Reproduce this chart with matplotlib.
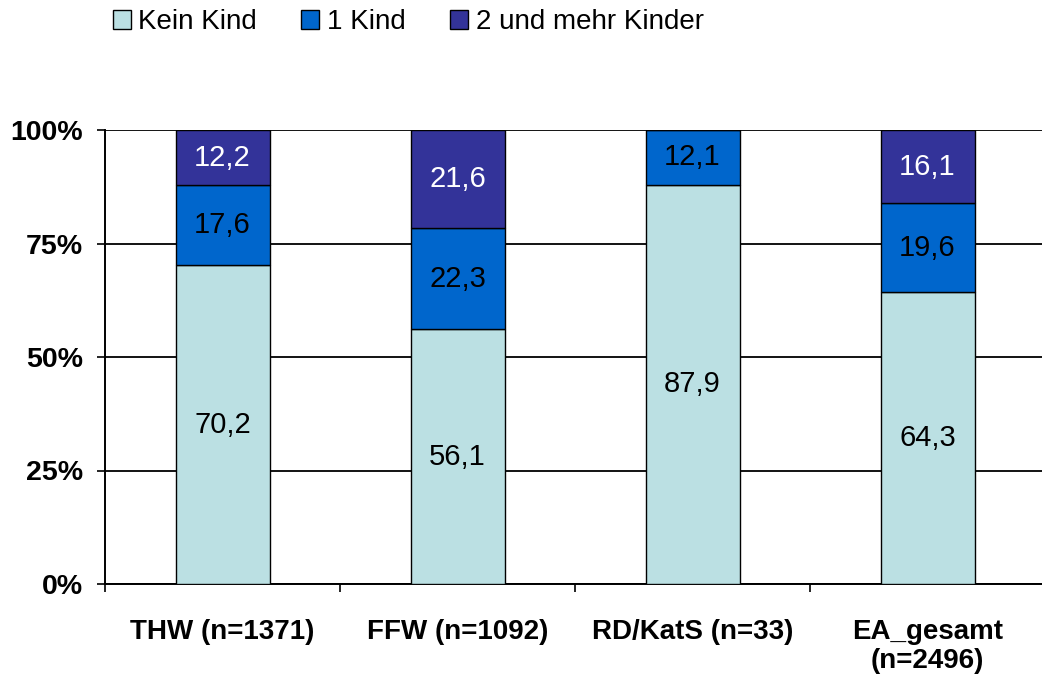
import matplotlib
matplotlib.use("Agg")
import matplotlib.pyplot as plt
import numpy as np

plt.rcParams['font.family'] = ['Liberation Sans', 'DejaVu Sans']

categories = ["THW (n=1371)", "FFW (n=1092)", "RD/KatS (n=33)", "EA_gesamt\n(n=2496)"]
series_names = ["Kein Kind", "1 Kind", "2 und mehr Kinder"]
kein_kind = [70.2, 56.1, 87.9, 64.3]
ein_kind = [17.6, 22.3, 12.1, 19.6]
zwei_mehr = [12.2, 21.6, 0.0, 16.1]
y_ticks = [0, 25, 50, 75, 100]
y_tick_labels = ["0%", "25%", "50%", "75%", "100%"]

colors = ["#BBE0E3", "#0066CC", "#333399"]
text_colors = ["black", "black", "white"]

fig = plt.figure(figsize=(10.42, 6.8), dpi=100)
ax = fig.add_axes([105/1042, 1-584/680, 940/1042, (584-130)/680])

x = np.arange(len(categories))
bottom = np.zeros(len(categories))
handles = []
for vals, col, tc, name in zip([kein_kind, ein_kind, zwei_mehr], colors, text_colors, series_names):
    vals = np.array(vals)
    bars = ax.bar(x, vals, width=0.40, bottom=bottom, color=col, edgecolor="black",
                  linewidth=1.0, label=name, zorder=3)
    handles.append(bars)
    for xi, v, b in zip(x, vals, bottom):
        if v > 0:
            ax.text(xi, b + v/2, f"{v:.1f}".replace(".", ","), ha="center", va="center",
                    fontsize=21, color=tc, zorder=4)
    bottom += vals

ax.set_xlim(-0.5, 3.5)
ax.set_ylim(0, 100)
ax.set_yticks(y_ticks)
ax.set_yticklabels(y_tick_labels, fontsize=20.5, fontweight="bold")
ax.yaxis.grid(True, color="black", linewidth=1.3, zorder=0)
ax.set_axisbelow(True)

ax.set_xticks(x)
ax.set_xticklabels(categories, fontsize=20, fontweight="bold", linespacing=1.15)
ax.tick_params(axis="x", which="major", length=0, pad=25)
ax.set_xticks(np.arange(-0.5, 4.0, 1.0), minor=True)
ax.tick_params(axis="x", which="minor", length=6, width=1.2, direction="out")
ax.tick_params(axis="y", length=6, width=1.2, direction="out", pad=10)

for s in ["top", "right"]:
    ax.spines[s].set_visible(False)
for s in ["left", "bottom"]:
    ax.spines[s].set_linewidth(1.4)

fig.legend(handles=handles, labels=series_names, loc="upper left",
           bbox_to_anchor=(100/1042, 1.005), ncol=3, frameon=False, fontsize=20,
           handlelength=0.65, handleheight=0.65, handletextpad=0.27, columnspacing=1.6,
           borderaxespad=0.05)

fig.savefig("out.png", dpi=100)
